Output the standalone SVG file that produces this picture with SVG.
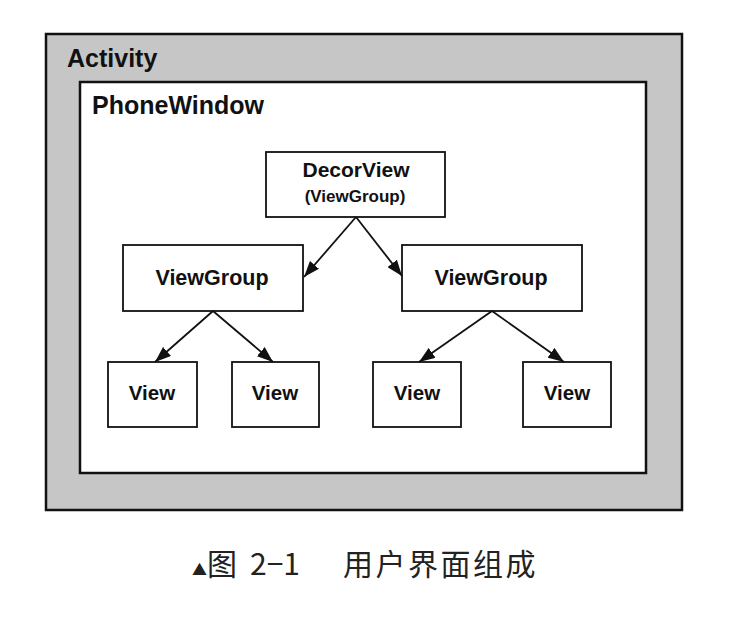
<svg xmlns="http://www.w3.org/2000/svg" width="736" height="628" viewBox="0 0 736 628">
<style>
.box{fill:#fff;stroke:#111;stroke-width:1.8}
.lbl{font-family:"Liberation Sans",Arial,sans-serif;font-weight:bold;fill:#111;text-anchor:middle}
.conn{stroke:#111;stroke-width:1.8;fill:none;marker-end:url(#ah)}
.cap{font-family:"Noto Sans CJK SC","Noto Sans",sans-serif;fill:#222}
</style>
<defs>
<marker id="ah" viewBox="0 0 16 12" refX="16" refY="6" markerWidth="16" markerHeight="12" markerUnits="userSpaceOnUse" orient="auto">
<path d="M0,0 L16,6 L0,12 z" fill="#111"/>
</marker>
</defs>
<rect width="736" height="628" fill="#fff"/>
<g id="activity">
<rect x="46" y="34" width="636" height="476" fill="#c6c6c6" stroke="#111" stroke-width="2.5"/>
<text x="67" y="67" class="lbl" style="text-anchor:start;font-size:25px">Activity</text>
</g>
<g id="phonewindow">
<rect x="80" y="82" width="566" height="391" fill="#fff" stroke="#111" stroke-width="2.5"/>
<text x="92" y="114" class="lbl" style="text-anchor:start;font-size:25px">PhoneWindow</text>
</g>
<g id="decorview">
<rect class="box" x="266" y="152" width="179" height="65"/>
<text x="356" y="177" class="lbl" style="font-size:21px">DecorView</text>
<text x="355" y="202" class="lbl" style="font-size:17px">(ViewGroup)</text>
</g>
<g id="viewgroup-left">
<rect class="box" x="123" y="245" width="180" height="66"/>
<text x="212" y="285" class="lbl" style="font-size:21.5px">ViewGroup</text>
</g>
<g id="viewgroup-right">
<rect class="box" x="402" y="245" width="180" height="66"/>
<text x="491" y="285" class="lbl" style="font-size:21.5px">ViewGroup</text>
</g>
<g id="view-1">
<rect class="box" x="108" y="362" width="89" height="65"/>
<text x="152" y="400" class="lbl" style="font-size:20.5px">View</text>
</g>
<g id="view-2">
<rect class="box" x="232" y="362" width="87" height="65"/>
<text x="275" y="400" class="lbl" style="font-size:20.5px">View</text>
</g>
<g id="view-3">
<rect class="box" x="373" y="362" width="88" height="65"/>
<text x="417" y="400" class="lbl" style="font-size:20.5px">View</text>
</g>
<g id="view-4">
<rect class="box" x="523" y="362" width="88" height="65"/>
<text x="567" y="400" class="lbl" style="font-size:20.5px">View</text>
</g>
<g id="connectors">
<line class="conn" x1="356" y1="217" x2="304" y2="277"/>
<line class="conn" x1="356" y1="217" x2="402" y2="276"/>
<line class="conn" x1="213" y1="311" x2="155" y2="362"/>
<line class="conn" x1="213" y1="311" x2="273" y2="362"/>
<line class="conn" x1="492" y1="311" x2="419" y2="362"/>
<line class="conn" x1="492" y1="311" x2="564" y2="362"/>
</g>
<g id="caption">
<text class="cap" y="575" style="font-size:30px"><tspan x="192" style="font-size:15px">▲</tspan><tspan x="207">图</tspan><tspan x="250">2−1</tspan><tspan x="343" style="letter-spacing:2.5px">用户界面组成</tspan></text>
</g>
</svg>
